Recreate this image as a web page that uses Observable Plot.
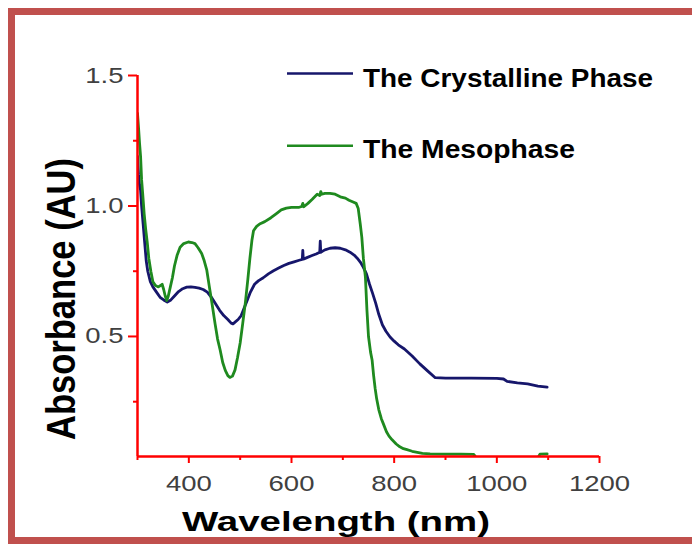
<!DOCTYPE html>
<html>
<head>
<meta charset="utf-8">
<script src="https://cdn.jsdelivr.net/npm/d3@7"></script>
<script src="https://cdn.jsdelivr.net/npm/@observablehq/plot@0.6"></script>
<style>
  html, body { margin: 0; padding: 0; background: #fff; overflow: hidden; }
  #chart { position: relative; width: 692px; height: 544px; overflow: hidden; background: #fff; }
  #chart svg { position: absolute; left: 0; top: 0; }
  #border {
    position: absolute; left: 8px; top: 8px; width: 720px; height: 536px;
    box-sizing: border-box; border: 7px solid #c0504d; pointer-events: none;
  }
</style>
</head>
<body>
<div id="chart"><div id="border"></div></div>
<script>
// UV-Vis absorbance spectra of the two phases
const seriesNames = ["The Crystalline Phase", "The Mesophase"];
const seriesColors = ["#16166b", "#1f8a1f"];

const crystallineNm = [300, 302, 304, 306, 308, 311, 314, 317, 320, 325, 330, 337, 344, 351, 358, 365, 372, 380, 388, 396,
  404, 412, 420, 428, 436, 444, 452, 460, 468, 476, 482, 486, 490, 496, 502, 508, 514, 520, 528, 536,
  545, 555, 565, 575, 585, 595, 605, 615, 621, 622, 623, 630, 640, 648, 652, 655, 656, 657, 660, 665,
  675, 685, 695, 705, 714, 722, 728, 734, 740, 746, 752, 758, 764, 770, 777, 784, 792, 800, 808, 820,
  835, 850, 865, 880, 900, 950, 1000, 1013, 1020, 1040, 1060, 1080, 1098];
const crystallineAbs = [1.19, 1.12, 1.08, 1.06, 1.0, 0.93, 0.86, 0.79, 0.75, 0.71, 0.69, 0.67, 0.65, 0.64, 0.632, 0.64, 0.655, 0.672, 0.683, 0.689,
  0.69, 0.688, 0.685, 0.68, 0.67, 0.65, 0.625, 0.6, 0.58, 0.565, 0.552, 0.548, 0.555, 0.565, 0.58, 0.61, 0.64, 0.67, 0.7, 0.714,
  0.725, 0.74, 0.752, 0.762, 0.772, 0.78, 0.786, 0.792, 0.795, 0.83, 0.796, 0.802, 0.81, 0.816, 0.82, 0.822, 0.865, 0.822, 0.826, 0.832,
  0.838, 0.84, 0.838, 0.832, 0.823, 0.812, 0.8, 0.785, 0.765, 0.74, 0.7, 0.665, 0.628, 0.585, 0.545, 0.52, 0.498, 0.482, 0.468, 0.452,
  0.425, 0.395, 0.368, 0.342, 0.34, 0.34, 0.339, 0.337, 0.328, 0.322, 0.318, 0.31, 0.306];

const mesophaseNm = [300, 302, 304, 306, 308, 310, 313, 316, 319, 322, 326, 330, 335, 340, 345, 348, 351, 354, 357, 360,
  364, 368, 372, 377, 383, 390, 399, 406, 412, 418, 425, 430, 435, 440, 445, 451, 456, 461, 466, 471,
  476, 480, 485, 490, 495, 500, 505, 510, 515, 519, 523, 526, 532, 539, 548, 560, 570, 580, 590, 600,
  615, 620, 622, 624, 632, 640, 650, 655, 657, 659, 665, 675, 685, 695, 705, 712, 720, 726, 730, 734,
  737, 740, 744, 747, 750, 754, 757, 760, 763, 766, 770, 775, 779, 785, 790, 796, 804, 811, 818, 825,
  835, 845, 855, 870, 900, 930, 955, 960, 1080, 1084, 1098];
const mesophaseAbs = [1.355, 1.3, 1.24, 1.19, 1.1, 1.05, 0.97, 0.91, 0.86, 0.8, 0.75, 0.71, 0.695, 0.69, 0.695, 0.7, 0.68, 0.655, 0.638, 0.655,
  0.69, 0.725, 0.77, 0.81, 0.842, 0.856, 0.862, 0.86, 0.856, 0.84, 0.818, 0.79, 0.754, 0.69, 0.628, 0.55, 0.49, 0.448, 0.4, 0.37,
  0.35, 0.343, 0.348, 0.372, 0.42, 0.475, 0.55, 0.628, 0.72, 0.8, 0.87, 0.905, 0.922, 0.932, 0.94, 0.955, 0.97, 0.985, 0.992, 0.995,
  0.995, 0.998, 1.01, 0.997, 1.01, 1.025, 1.045, 1.04, 1.055, 1.045, 1.048, 1.048, 1.045, 1.035, 1.03, 1.022, 1.015, 1.01, 0.99, 0.93,
  0.88, 0.8, 0.727, 0.6, 0.5, 0.44, 0.41, 0.35, 0.3, 0.26, 0.22, 0.185, 0.165, 0.135, 0.118, 0.104, 0.088, 0.077, 0.07, 0.066,
  0.06, 0.056, 0.052, 0.05, 0.049, 0.049, 0.048, 0.035, 0.035, 0.049, 0.05];

const xDomain = [300, 1200];
const yDomain = [0.04, 1.5];
const xTicks = [400, 600, 800, 1000, 1200];
const xMinorTicks = [300, 500, 700, 900, 1100];
const yTicks = [0.5, 1.0, 1.5];
const yMinorTicks = [0.25, 0.75, 1.25];
const xTitle = "Wavelength (nm)";
const yTitle = "Absorbance (AU)";

const rows = [
  ...crystallineNm.map((nm, i) => ({series: seriesNames[0], nm, abs: crystallineAbs[i]})),
  ...mesophaseNm.map((nm, i) => ({series: seriesNames[1], nm, abs: mesophaseAbs[i]}))
];

const axisRed = "#ff0000";
const tickText = "#404040";

const plot = Plot.plot({
  width: 692,
  height: 544,
  marginLeft: 137,
  marginRight: 93,
  marginTop: 75,
  marginBottom: 88,
  style: {
    fontFamily: "'Liberation Sans', Arial, sans-serif",
    fontSize: "22px",
    background: "transparent",
    overflow: "visible"
  },
  x: {domain: xDomain},
  y: {domain: yDomain},
  color: {domain: seriesNames, range: seriesColors},
  marks: [
    Plot.axisX({ticks: xMinorTicks, tickSize: 4, tickFormat: () => "", label: null, stroke: axisRed, strokeWidth: 2}),
    Plot.axisX({ticks: xTicks, tickSize: 7, tickPadding: 12, tickFormat: d3.format("d"), label: null, stroke: axisRed, strokeWidth: 2, fill: tickText}),
    Plot.axisY({ticks: yMinorTicks, tickSize: 4, tickFormat: () => "", label: null, stroke: axisRed, strokeWidth: 2}),
    Plot.axisY({ticks: yTicks, tickSize: 9, tickPadding: 5, tickFormat: d3.format(".1f"), label: null, stroke: axisRed, strokeWidth: 2, fill: tickText}),
    Plot.line(rows, {x: "nm", y: "abs", z: "series", stroke: "series", strokeWidth: 2.8, strokeLinejoin: "round", clip: true}),
    Plot.ruleX([xDomain[0]], {stroke: axisRed, strokeWidth: 2.5}),
    Plot.ruleY([yDomain[0]], {stroke: axisRed, strokeWidth: 2.5})
  ]
});

const svg = d3.select(plot);

// widen the tick labels horizontally about their anchor
svg.selectAll('g[aria-label$="tick label"] text').each(function () {
  const t = d3.select(this);
  let tr = t.attr("transform") || "";
  const x = t.attr("x");
  if (x != null && !isNaN(+x) && +x !== 0) {
    tr += ` translate(${+x},0)`;
    t.attr("x", null);
  }
  t.attr("transform", `${tr} scale(1.25,1)`);
});

// axis titles
svg.append("text")
  .attr("x", 182).attr("y", 531)
  .attr("text-anchor", "start")
  .attr("font-size", 28).attr("font-weight", "bold").attr("fill", "#000")
  .attr("textLength", 308).attr("lengthAdjust", "spacingAndGlyphs")
  .text(xTitle);

svg.append("text")
  .attr("transform", "translate(75,440) scale(1.42,1) rotate(-90)")
  .attr("text-anchor", "start")
  .attr("font-size", 29).attr("font-weight", "bold").attr("fill", "#000")
  .attr("textLength", 282).attr("lengthAdjust", "spacingAndGlyphs")
  .text(yTitle);

// legend
const legendRows = [73.5, 145.7];
const legendBaselines = [86.7, 158.3];
const legendWidths = [290, 212];
const legend = svg.append("g").attr("aria-label", "legend");
seriesNames.forEach((name, i) => {
  legend.append("line")
    .attr("x1", 287).attr("x2", 353)
    .attr("y1", legendRows[i]).attr("y2", legendRows[i])
    .attr("stroke", seriesColors[i]).attr("stroke-width", 2.4);
  legend.append("text")
    .attr("x", 363).attr("y", legendBaselines[i])
    .attr("text-anchor", "start")
    .attr("font-size", 25.5).attr("font-weight", "bold").attr("fill", "#000")
    .attr("textLength", legendWidths[i]).attr("lengthAdjust", "spacingAndGlyphs")
    .text(name);
});

const chart = document.getElementById("chart");
chart.insertBefore(plot, document.getElementById("border"));
</script>
</body>
</html>
